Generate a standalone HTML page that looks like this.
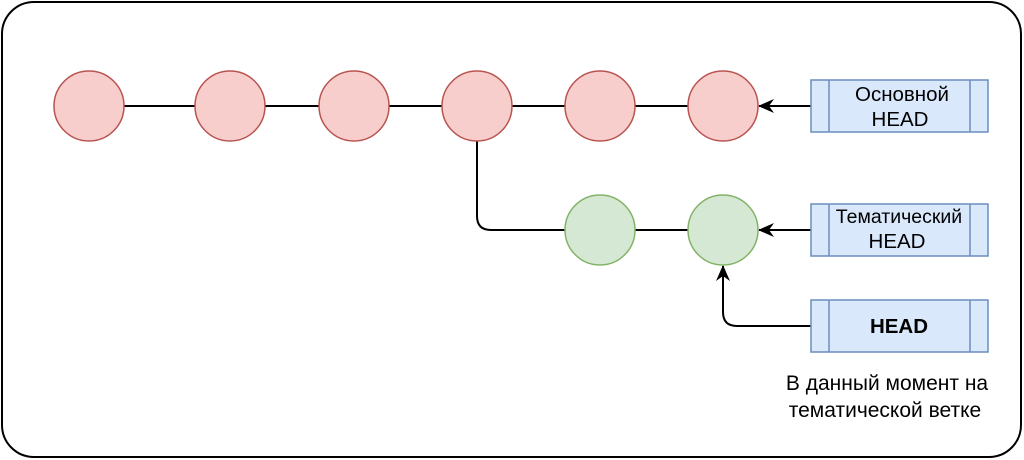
<!DOCTYPE html>
<html><head><meta charset="utf-8"><style>
html,body{margin:0;padding:0;background:#fff;}
svg{display:block;}
text{font-family:"Liberation Sans","DejaVu Sans",sans-serif;}
.l{font-size:20.5px;}
.c{font-size:21px;}
</style></head><body>
<svg width="1024" height="460" viewBox="0 0 1024 460" xmlns="http://www.w3.org/2000/svg">
<defs>
<marker id="a" viewBox="0 0 16 14" refX="15" refY="7" markerWidth="16" markerHeight="14" orient="auto" markerUnits="userSpaceOnUse"><path d="M0,0 L16,7 L0,14 L5,7 z" fill="#000"/></marker>
</defs>
<rect x="2" y="2" width="1019" height="455" rx="32" fill="#fff" stroke="#000" stroke-width="2"/>
<line x1="124" y1="106" x2="688" y2="106" stroke="#000" stroke-width="2"/>
<path d="M477,141 L477,216 Q477,230 491,230 L565,230" fill="none" stroke="#000" stroke-width="2"/>
<line x1="635" y1="230" x2="688" y2="230" stroke="#000" stroke-width="2"/>
<line x1="811" y1="106" x2="759" y2="106" stroke="#000" stroke-width="2" marker-end="url(#a)"/>
<line x1="811" y1="230" x2="759" y2="230" stroke="#000" stroke-width="2" marker-end="url(#a)"/>
<path d="M811,326 L737,326 Q723,326 723,312 L723,266" fill="none" stroke="#000" stroke-width="2" marker-end="url(#a)"/>
<g fill="#f8cecc" stroke="#b85450" stroke-width="1.5">
<circle cx="89" cy="106" r="35"/>
<circle cx="230" cy="106" r="35"/>
<circle cx="354" cy="106" r="35"/>
<circle cx="477" cy="106" r="35"/>
<circle cx="600" cy="106" r="35"/>
<circle cx="723" cy="106" r="35"/>
</g>
<g fill="#d5e8d4" stroke="#82b366" stroke-width="1.5">
<circle cx="600" cy="230" r="35"/>
<circle cx="723" cy="230" r="35"/>
</g>
<g fill="#dae8fc" stroke="#6c8ebf" stroke-width="1.5">
<rect x="811" y="80" width="177" height="52"/>
<line x1="829" y1="80" x2="829" y2="132"/><line x1="970" y1="80" x2="970" y2="132"/>
<rect x="811" y="204" width="177" height="52"/>
<line x1="829" y1="204" x2="829" y2="256"/><line x1="970" y1="204" x2="970" y2="256"/>
<rect x="811" y="300" width="177" height="52"/>
<line x1="829" y1="300" x2="829" y2="352"/><line x1="970" y1="300" x2="970" y2="352"/>
</g>
<text class="l" x="902" y="101" text-anchor="middle">Основной</text>
<text class="l" x="900" y="126" text-anchor="middle">HEAD</text>
<text class="l" x="899" y="223" text-anchor="middle" style="font-size:19.5px">Тематический</text>
<text class="l" x="897" y="248" text-anchor="middle">HEAD</text>
<text class="l" x="899" y="333" text-anchor="middle" font-weight="bold">HEAD</text>
<text class="c" x="887" y="390" text-anchor="middle">В данный момент на</text>
<text class="c" x="885" y="417" text-anchor="middle">тематической ветке</text>
</svg>
</body></html>
